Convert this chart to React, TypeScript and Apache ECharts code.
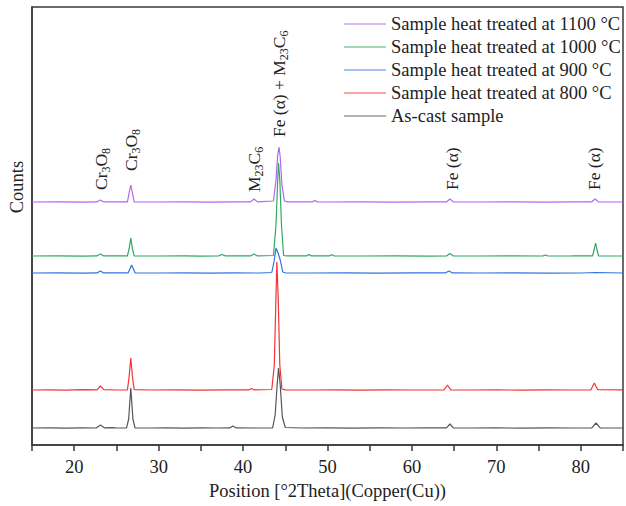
import React, { useEffect, useRef } from "react";
import * as echarts from "echarts";

const seriesNames = [
  "Sample heat treated at 1100 °C",
  "Sample heat treated at 1000 °C",
  "Sample heat treated at 900 °C",
  "Sample heat treated at 800 °C",
  "As-cast sample",
];
const seriesColors = ["#b066f2", "#2fa862", "#3373e0", "#f23434", "#555555"];

const asCast = [
  [15,170],[17,172],[19,169],[21,171],[22.6,170],[23.1,200],[23.6,171],[24.5,174],[25,170],[26.2,171],[26.45,260],[26.7,570],[26.95,260],[27.2,172],[29,170],[31,171],[33,169],[35,171],[37,170],[38.4,171],[38.8,190],[39.2,171],[41,170],[43.5,172],[43.8,300],[44.05,620],[44.2,770],[44.4,600],[44.65,280],[45,175],[47,170],[50,171],[53,169],[56,171],[59,170],[62,171],[64.1,172],[64.5,210],[64.9,172],[67,170],[70,171],[73,169],[76,171],[79,170],[81.3,172],[81.8,220],[82.3,172],[85,170],
];
const ht800 = [
  [15,550],[17,552],[19,549],[21,553],[22.7,552],[23.1,590],[23.5,553],[25,550],[26.3,552],[26.5,680],[26.7,870],[26.9,680],[27.1,553],[29,550],[32,551],[35,549],[38,552],[40.7,552],[41,565],[41.3,552],[43.4,555],[43.7,800],[43.9,1500],[44.0,1830],[44.15,1500],[44.35,800],[44.6,560],[45,552],[48,550],[51,551],[54,549],[57,551],[60,550],[63.8,552],[64.2,600],[64.6,552],[67,550],[70,551],[73,549],[76,551],[79,550],[81.2,552],[81.6,620],[82,553],[85,551],
];
const ht900 = [
  [15,1720],[18,1722],[21,1719],[22.7,1721],[23.1,1740],[23.5,1721],[26.4,1722],[26.8,1800],[27.2,1722],[30,1720],[33,1721],[36,1719],[39,1721],[42,1720],[43.4,1725],[43.7,1850],[43.9,1970],[44.15,1920],[44.4,1850],[44.7,1730],[45,1722],[48,1720],[52,1721],[56,1719],[60,1721],[64,1722],[64.4,1740],[64.8,1721],[68,1720],[72,1721],[76,1719],[80,1720],[81.8,1725],[85,1720],
];
const ht1000 = [
  [15,1890],[18,1892],[21,1889],[22.7,1891],[23.1,1910],[23.5,1891],[26.3,1892],[26.5,1960],[26.7,2070],[26.9,1960],[27.1,1892],[30,1890],[33,1891],[35,1889],[37.1,1891],[37.5,1905],[37.9,1891],[40.9,1891],[41.3,1910],[41.7,1891],[43.6,1895],[43.9,2200],[44.1,2650],[44.2,2820],[44.35,2650],[44.55,2200],[44.8,1895],[45.2,1891],[47.5,1891],[47.8,1905],[48.1,1891],[50.2,1891],[50.5,1903],[50.8,1891],[54,1890],[58,1891],[62,1889],[64.1,1891],[64.5,1915],[64.9,1891],[68,1890],[72,1891],[75.5,1890],[75.8,1900],[76.1,1890],[79,1891],[81.4,1892],[81.6,1960],[81.75,2020],[81.9,1960],[82.1,1892],[85,1890],
];
const ht1100 = [
  [15,2430],[18,2432],[21,2429],[22.7,2431],[23.1,2450],[23.5,2431],[26.3,2432],[26.5,2520],[26.7,2600],[26.9,2520],[27.1,2432],[30,2430],[33,2431],[36,2429],[39,2431],[40.9,2431],[41.3,2460],[41.7,2431],[43.6,2440],[43.9,2650],[44.1,2900],[44.25,2980],[44.4,2880],[44.6,2600],[44.9,2440],[45.3,2431],[48.2,2431],[48.5,2445],[48.8,2431],[50,2430],[54,2431],[58,2429],[62,2431],[64.1,2431],[64.5,2460],[64.9,2431],[68,2430],[72,2431],[76,2429],[79,2431],[81.3,2432],[81.7,2460],[82.1,2431],[85,2430],
];
const seriesData = [ht1100, ht1000, ht900, ht800, asCast];

// annotation labels: [2θ, counts, rich text]
const annotations: [number, number, string][] = [
  [23.2, 2550, "{n|Cr}{s|3}{n|O}{s|8}"],
  [26.7, 2740, "{n|Cr}{s|3}{n|O}{s|8}"],
  [41.3, 2530, "{n|M}{s|23}{n|C}{s|6}"],
  [44.3, 3080, "{n|Fe (α) + M}{s|23}{n|C}{s|6}"],
  [64.7, 2550, "{n|Fe (α)}"],
  [81.6, 2550, "{n|Fe (α)}"],
];

const xTicks = [20, 30, 40, 50, 60, 70, 80];
const FONT = "Liberation Serif";

export default function App() {
  const ref = useRef<HTMLDivElement>(null);
  useEffect(() => {
    const chart = echarts.init(ref.current!, null, { renderer: "svg" });
    const lineSeries = seriesNames.map((name, i) => ({
      name,
      type: "line",
      data: seriesData[i],
      showSymbol: false,
      symbol: "none",
      z: 10 - i,
      lineStyle: { color: seriesColors[i], width: 1.2 },
      itemStyle: { color: seriesColors[i] },
    }));
    chart.setOption({
      animation: false,
      backgroundColor: "#ffffff",
      grid: {
        left: 32,
        top: 7,
        width: 596,
        height: 438,
        show: true,
        borderColor: "#3a3a3a",
        borderWidth: 1.5,
      },
      legend: {
        orient: "vertical",
        left: 343,
        top: 14,
        padding: 0,
        itemWidth: 42,
        itemHeight: 14,
        itemGap: 3,
        textStyle: { fontFamily: FONT, fontSize: 18.5, color: "#222", lineHeight: 20, padding: [0, 0, 0, 0] },
        data: seriesNames.map((n, i) => ({
          name: n,
          itemStyle: { color: seriesColors[i], opacity: 0 },
          lineStyle: { color: seriesColors[i], opacity: 0.45, width: 2 },
        })),
      },
      xAxis: {
        type: "value",
        min: 15,
        max: 85,
        interval: 5,
        name: "Position [°2Theta](Copper(Cu))",
        nameLocation: "middle",
        nameGap: 36,
        nameTextStyle: { fontFamily: FONT, fontSize: 18.5, color: "#222" },
        axisLine: { show: true, lineStyle: { color: "#3a3a3a", width: 1.5 } },
        axisTick: { show: true, length: 6, lineStyle: { color: "#3a3a3a", width: 1.5 } },
        axisLabel: {
          fontFamily: FONT,
          fontSize: 18.5,
          color: "#222",
          margin: 12,
          formatter: (v: number) => (xTicks.includes(v) ? String(v) : ""),
        },
        splitLine: { show: false },
      },
      yAxis: {
        type: "value",
        min: 0,
        max: 4380,
        axisLine: { show: true, lineStyle: { color: "#3a3a3a", width: 1.5 } },
        axisTick: { show: false },
        axisLabel: { show: false },
        splitLine: { show: false },
      },
      graphic: [
        {
          type: "text",
          x: 17,
          y: 187,
          rotation: Math.PI / 2,
          style: {
            text: "Counts",
            fontFamily: FONT,
            fontSize: 18.5,
            fill: "#222",
            align: "center",
            verticalAlign: "middle",
          },
        },
      ],
      series: [
        ...lineSeries.slice().reverse(),
        {
          type: "custom",
          name: "annotations",
          silent: true,
          clip: false,
          z: 20,
          data: annotations.map((a) => [a[0], a[1]]),
          encode: { x: 0, y: 1 },
          renderItem: (params: any, api: any) => {
            const p = api.coord([api.value(0), api.value(1)]);
            const txt = annotations[params.dataIndex][2];
            return {
              type: "text",
              x: p[0],
              y: p[1],
              rotation: Math.PI / 2,
              style: {
                text: txt,
                align: "left",
                verticalAlign: "middle",
                fill: "#222",
                rich: {
                  n: { fontFamily: FONT, fontSize: 17.5, lineHeight: 22, fill: "#222", verticalAlign: "middle" },
                  s: { fontFamily: FONT, fontSize: 12, lineHeight: 22, fill: "#222", verticalAlign: "bottom", padding: [9, 0, 0, 0] },
                },
              },
            };
          },
        },
      ],
    });
    return () => chart.dispose();
  }, []);
  return (
    <div
      ref={ref}
      style={{ position: "fixed", left: 0, top: 0, width: 626, height: 506, background: "#fff" }}
    />
  );
}
